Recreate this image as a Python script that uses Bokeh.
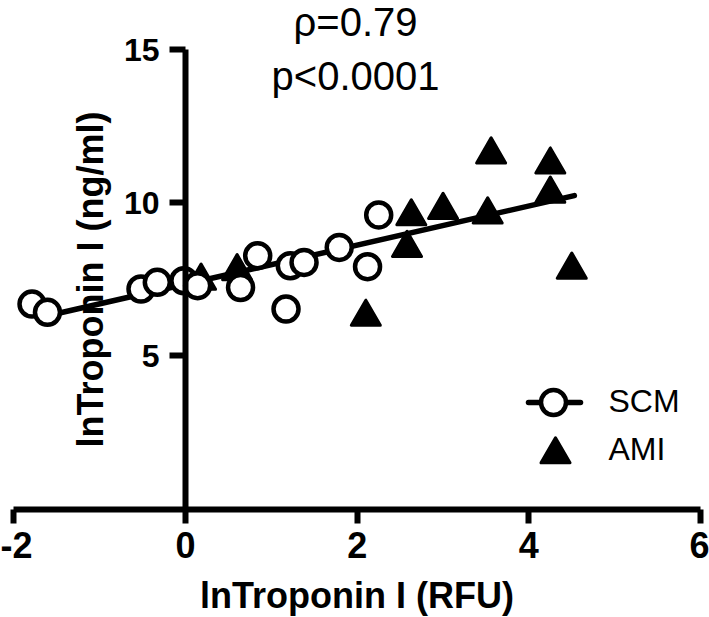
from bokeh.plotting import figure
from bokeh.models import Range1d, FixedTicker, ColumnDataSource
from bokeh.core.properties import value
from bokeh.embed import file_html
from bokeh.resources import INLINE

# ---------------- data ----------------
scm_x = [-1.79, -1.61, -0.52, -0.33, -0.02, 0.14, 0.64, 0.84, 1.17, 1.22, 1.38, 1.79, 2.12, 2.25]
scm_y = [6.69, 6.42, 7.18, 7.40, 7.45, 7.29, 7.23, 8.27, 6.53, 7.94, 8.05, 8.54, 7.91, 9.60]
ami_x = [0.18, 0.60, 2.10, 2.58, 2.63, 3.00, 3.52, 3.56, 4.25, 4.25, 4.50]
ami_y = [7.45, 7.76, 6.27, 8.52, 9.55, 9.76, 9.61, 11.57, 11.24, 10.29, 7.81]
fit_x = [-1.61, 4.53]
fit_y = [6.31, 10.23]
x_ticks = [-2, 0, 2, 4, 6]
y_ticks = [5, 10, 15]
series_names = ["SCM", "AMI"]
stat_lines = ["ρ=0.79", "p<0.0001"]
x_title = "lnTroponin I (RFU)"
y_title = "lnTroponin I (ng/ml)"

# ---------------- layout ----------------
W, H = 709, 617
OFF = 0
X0, X1 = -2.1573, 6.1049
Y0, Y1 = -3.5419, 16.5996
XS = W / (X1 - X0)
YS = H / (Y1 - Y0)


def dx(px):  # page pixel -> data x (layout helper for annotations)
    return X0 + (px - OFF) / XS


def dy(py):  # page pixel -> data y
    return Y1 - (py - OFF) / YS


FONT = "Liberation Sans"

p = figure(width=W, height=H, x_range=Range1d(X0, X1), y_range=Range1d(Y0, Y1),
           output_backend="svg", toolbar_location=None,
           min_border_left=0, min_border_right=0, min_border_top=0, min_border_bottom=0)
p.outline_line_color = None
p.grid.visible = False
p.background_fill_color = "white"
p.border_fill_color = "white"

xa = p.xaxis[0]
xa.fixed_location = 0
xa.bounds = (-2, 6)
xa.ticker = FixedTicker(ticks=x_ticks)
xa.major_label_overrides = {t: str(t) for t in x_ticks}
xa.axis_line_width = 6
xa.axis_line_color = "black"
xa.major_tick_line_width = 6
xa.major_tick_line_color = "black"
xa.major_tick_out = 14
xa.major_tick_in = 0
xa.minor_tick_line_color = None
xa.major_label_text_font = FONT
xa.major_label_text_font_size = "36px"
xa.major_label_text_font_style = "bold"
xa.major_label_text_color = "black"
xa.major_label_standoff = 9
xa.axis_label = x_title
xa.axis_label_text_font = FONT
xa.axis_label_text_font_size = "36px"
xa.axis_label_text_font_style = "bold"
xa.axis_label_text_color = "black"
xa.axis_label_standoff = 13

ya = p.yaxis[0]
ya.fixed_location = 0
ya.bounds = (0, 15)
ya.ticker = FixedTicker(ticks=y_ticks)
ya.axis_line_width = 6
ya.axis_line_color = "black"
ya.major_tick_line_width = 6
ya.major_tick_line_color = "black"
ya.major_tick_out = 16
ya.major_tick_in = 0
ya.minor_tick_line_color = None
ya.major_label_text_font = FONT
ya.major_label_text_font_size = "32px"
ya.major_label_text_font_style = "bold"
ya.major_label_text_color = "black"
ya.major_label_standoff = 10
ya.axis_label = y_title
ya.axis_label_text_font = FONT
ya.axis_label_text_font_size = "36px"
ya.axis_label_text_font_style = "bold"
ya.axis_label_text_color = "black"
ya.axis_label_standoff = 10

# ---------------- marks ----------------
p.line(fit_x, fit_y, line_width=5.5, line_color="black", line_cap="round")

ami_src = ColumnDataSource(dict(x=ami_x, y=ami_y))
p.scatter("x", "y", source=ami_src, marker="triangle", size=29,
          fill_color="black", line_color="black", line_width=3, line_join="round")

scm_src = ColumnDataSource(dict(x=scm_x, y=scm_y))
p.scatter("x", "y", source=scm_src, marker="circle", size=25,
          fill_color="white", line_color="black", line_width=4.5)

# ---------------- statistics annotation ----------------
p.text(x=[dx(355), dx(355)], y=[dy(21), dy(75)], text=stat_lines,
       text_font=value(FONT), text_font_size="40px", text_align="center",
       text_baseline="alphabetic", text_color="black")

# ---------------- legend (drawn by hand) ----------------
p.line([dx(528), dx(580)], [dy(402), dy(402)], line_width=5.5, line_color="black", line_cap="round")
p.scatter([dx(553)], [dy(402)], marker="circle", size=25,
          fill_color="white", line_color="black", line_width=4.5)
p.scatter([dx(555)], [dy(454)], marker="triangle", size=29,
          fill_color="black", line_color="black", line_width=3, line_join="round")
p.text(x=[dx(608), dx(608)], y=[dy(400), dy(448.7)], text=series_names,
       text_font=value(FONT), text_font_size="32px", text_align="left",
       text_baseline="alphabetic", text_color="black")

open("out.html", "w").write(file_html(p, INLINE))
